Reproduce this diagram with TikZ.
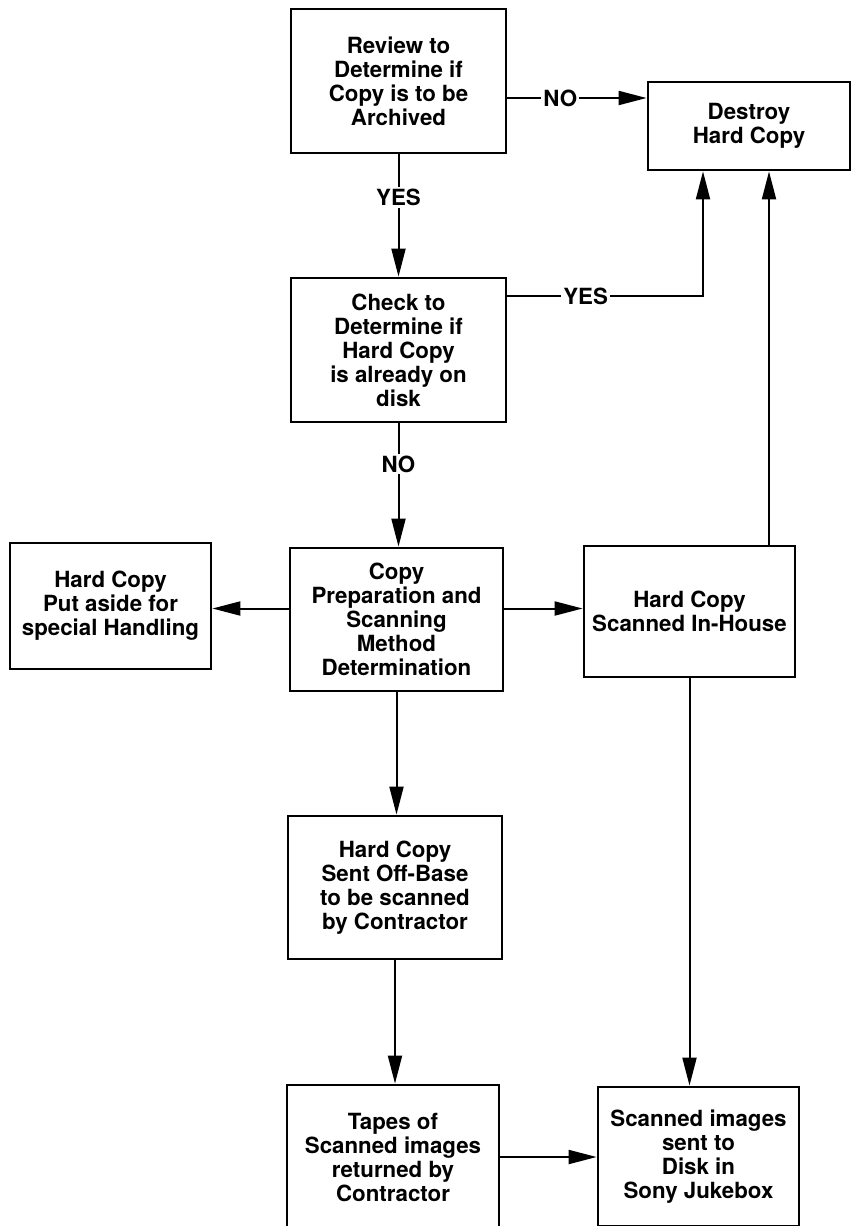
\documentclass[tikz,border=0pt]{standalone}
\usepackage{fontspec}
\setmainfont{TeX Gyre Heros}
\usetikzlibrary{arrows.meta}

\begin{document}
\begin{tikzpicture}[x=1pt, y=-1pt,
  box/.style={draw, line width=2.8pt, fill=white, align=center, inner sep=3pt, font=\bfseries\fontsize{22.3}{24}\selectfont},
  flow/.style={line width=2pt, -{Triangle[length=28pt, width=14pt]}},
  tag/.style={fill=white, inner sep=2pt, font=\bfseries\fontsize{22.3}{24}\selectfont}]
\useasboundingbox (0,0) rectangle (859,1226);
\node[box, minimum width=215, minimum height=144] (review) at (398.5,81) {Review to\\Determine if\\Copy is to be\\Archived};
\node[box, minimum width=202, minimum height=88] (destroy) at (749,126) {Destroy\\Hard Copy};
\node[box, minimum width=215, minimum height=144] (check) at (398.5,350) {Check to\\Determine if\\Hard Copy\\is already on\\disk};
\node[box, minimum width=201, minimum height=126] (aside) at (110.5,606) {Hard Copy\\Put aside for\\special Handling};
\node[box, minimum width=213, minimum height=143] (copy) at (396.5,619.5) {Copy\\Preparation and\\Scanning\\Method\\Determination};
\node[box, minimum width=211, minimum height=131] (inhouse) at (689.5,611.5) {Hard Copy\\Scanned In-House};
\node[box, minimum width=214, minimum height=143] (sent) at (395,887.5) {Hard Copy\\Sent Off-Base\\to be scanned\\by Contractor};
\node[box, minimum width=212, minimum height=144] (tapes) at (393,1157) {Tapes of\\Scanned images\\returned by\\Contractor};
\node[box, minimum width=201, minimum height=139] (sony) at (698.5,1156.5) {Scanned images\\sent to\\Disk in\\Sony Jukebox};

\draw [flow] (review.south) -- node [tag, pos=.35] {YES} (check.north);
\draw [flow] ([yshift=-17pt]review.east) -- node [tag, pos=.38] {NO} ([yshift=-17pt]review.east -| destroy.west);
\draw [flow] ([yshift=54pt]check.east) -| node [tag, pos=.2] {YES} ([xshift=-46pt]destroy.south);
\draw [flow] ([xshift=79.5pt]inhouse.north) -- ([xshift=79.5pt]inhouse.north |- destroy.south);
\draw [flow] (check.south) -- node [tag, pos=.33] {NO} (check.south |- copy.north);
\draw [flow] ([yshift=11pt]copy.west) -- ([yshift=11pt]copy.west -| aside.east);
\draw [flow] ([yshift=11pt]copy.east) -- ([yshift=11pt]copy.east -| inhouse.west);
\draw [flow] (copy.south) -- (copy.south |- sent.north);
\draw [flow] (sent.south) -- (sent.south |- tapes.north);
\draw [flow] (tapes.east) -- (tapes.east -| sony.west);
\draw [flow] (inhouse.south) -- (inhouse.south |- sony.north);
\end{tikzpicture}
\end{document}
